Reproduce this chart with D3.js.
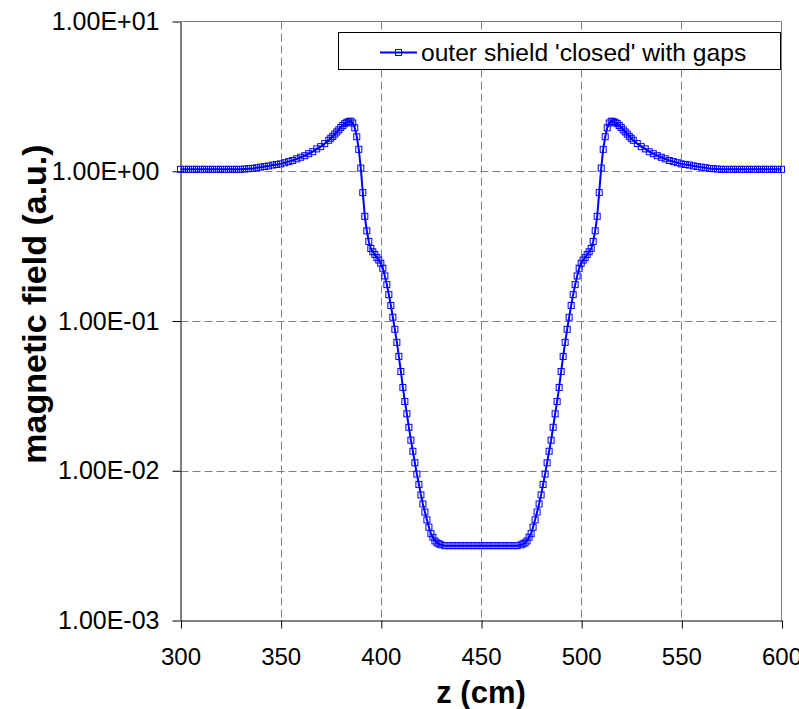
<!DOCTYPE html>
<html><head><meta charset="utf-8">
<script src="https://cdn.jsdelivr.net/npm/d3@7"></script>
<style>body{margin:0;background:#fff} svg{display:block}</style>
</head><body>
<svg id="c" width="799" height="709"></svg>
<script>
// ---- data ----
const zPos = [
  300,302,304,306,308,310,312,314,316,318,320,322,324,326,328,330,
  332,334,336,338,340,342,344,346,348,350,352,354,356,358,360,362,364,366,368,370,372,374,
  375,376,377,378,379,380,381,382,383,384,385,386,387,388,389,390,391,392,393,394,395,396,397,398,399,
  400,401,402,403,404,405,406,407,408,409,410,411,412,413,414,415,416,417,418,419,420,421,422,423,424,425,426,427,428,429,430,
  432,434,436,438,440,442,444,446,448,450,452,454,456,458,460,462,464,466,468,
  470,471,472,473,474,475,476,477,478,479,480,481,482,483,484,485,486,487,488,489,490,491,492,493,494,495,496,497,498,499,
  500,501,502,503,504,505,506,507,508,509,510,511,512,513,514,515,516,517,518,519,520,521,522,523,524,525,
  526,528,530,532,534,536,538,540,542,544,546,548,550,552,554,556,558,560,562,564,566,568,
  570,572,574,576,578,580,582,584,586,588,590,592,594,596,598,600
];
const field = [
  1.03,1.03,1.03,1.03,1.03,1.03,1.03,1.03,1.03,1.03,1.03,1.03,1.03,1.03,1.03,1.03,
  1.035,1.04,1.045,1.055,1.065,1.075,1.085,1.10,1.11,1.12,1.14,1.16,1.18,1.21,1.24,1.27,1.31,1.35,1.41,1.46,1.53,1.61,
  1.66,1.71,1.77,1.83,1.89,1.96,2.02,2.08,2.12,2.15,2.16,2.10,1.95,1.70,1.40,1.05,0.72,0.50,0.40,0.34,0.305,0.29,0.278,0.265,0.255,
  0.243,0.225,0.20,0.175,0.15,0.127,0.106,0.088,0.072,0.058,0.046,0.036,0.029,0.024,0.0195,0.016,0.0135,0.0113,0.0095,0.0081,0.0069,0.006,0.0053,0.0047,0.0042,0.0038,0.0036,0.0034,0.0033,0.00325,0.0032,
  0.00316,0.00316,0.00316,0.00316,0.00316,0.00316,0.00316,0.00316,0.00316,0.00316,0.00316,0.00316,0.00316,0.00316,0.00316,0.00316,0.00316,0.00316,0.00316,
  0.0032,0.00325,0.0033,0.0034,0.0036,0.0038,0.0042,0.0047,0.0053,0.006,0.0069,0.0081,0.0095,0.0113,0.0135,0.016,0.0195,0.024,0.029,0.036,0.046,0.058,0.072,0.088,0.106,0.127,0.15,0.175,0.20,0.225,
  0.243,0.255,0.265,0.278,0.29,0.305,0.34,0.40,0.50,0.72,1.05,1.40,1.70,1.95,2.10,2.16,2.15,2.12,2.08,2.02,1.96,1.89,1.83,1.77,1.71,1.66,
  1.61,1.53,1.46,1.41,1.35,1.31,1.27,1.24,1.21,1.18,1.16,1.14,1.12,1.11,1.10,1.085,1.075,1.065,1.055,1.045,1.04,1.035,
  1.03,1.03,1.03,1.03,1.03,1.03,1.03,1.03,1.03,1.03,1.03,1.03,1.03,1.03,1.03,1.03
];
const xTicks = [300,350,400,450,500,550,600];
const yTicks = [10,1,0.1,0.01,0.001];
const yTickLabels = ["1.00E+01","1.00E+00","1.00E-01","1.00E-02","1.00E-03"];
const seriesName = "outer shield 'closed' with gaps";
const xTitle = "z (cm)";
const yTitle = "magnetic field (a.u.)";

// ---- layout ----
const FONT = "'Liberation Sans', Arial, Helvetica, sans-serif";
const L = 180.5, R = 781.5, T = 21.5, B = 620.5;
const BLUE = "#0000ff";

const svg = d3.select("#c");
svg.append("rect").attr("width",799).attr("height",709).attr("fill","#fff");

const x = d3.scaleLinear().domain([300,600]).range([L,R]);
const y = d3.scaleLog().domain([0.001,10]).range([B,T]);

// gridlines
const grid = svg.append("g");
grid.selectAll("line.h").data(yTicks.filter(v => v > 0.001 && v < 10)).join("line")
  .attr("x1",L).attr("x2",R).attr("y1",d=>Math.round(y(d))+0.5).attr("y2",d=>Math.round(y(d))+0.5)
  .attr("stroke","#808080").attr("stroke-width",1).attr("stroke-dasharray","8,4");
grid.selectAll("line.v").data(xTicks.filter(v => v > 300 && v < 600)).join("line")
  .attr("y1",T).attr("y2",B).attr("x1",d=>Math.round(x(d))+0.5).attr("x2",d=>Math.round(x(d))+0.5)
  .attr("stroke","#808080").attr("stroke-width",1).attr("stroke-dasharray","8,4");

// plot border (top/right)
svg.append("path").attr("d",`M${L},${T}H${R}V${B}`).attr("fill","none").attr("stroke","#808080").attr("stroke-width",1);

// axes
const xAxis = d3.axisBottom(x).tickValues(xTicks).tickFormat(d3.format("d")).tickSize(8).tickSizeOuter(0).tickPadding(19);
const gx = svg.append("g").attr("transform",`translate(0,${B})`).call(xAxis);
const yAxis = d3.axisLeft(y).tickValues(yTicks).tickFormat((d,i)=>yTickLabels[i]).tickSize(8).tickSizeOuter(0).tickPadding(13);
const gy = svg.append("g").attr("transform",`translate(${L},0)`).call(yAxis);
[gx,gy].forEach(g=>{
  g.select(".domain").attr("stroke","#000");
  g.selectAll(".tick line").attr("stroke","#000");
  g.selectAll(".tick text").attr("fill","#000").style("font-family",FONT).style("font-size","24px");
});
gy.selectAll(".tick text").style("font-size","25px");
gx.selectAll(".tick line").attr("transform","translate(0.5,0)");

// series
const pts = zPos.map((z,i)=>[z, field[i]]);
const line = d3.line().x(d=>x(d[0])).y(d=>y(d[1]));
svg.append("path").datum(pts).attr("d",line).attr("fill","none").attr("stroke",BLUE).attr("stroke-width",2);
svg.append("g").selectAll("rect").data(pts).join("rect")
  .attr("x",d=>x(d[0])-3).attr("y",d=>y(d[1])-3).attr("width",6).attr("height",6)
  .attr("fill","none").attr("stroke",BLUE).attr("stroke-width",1);

// titles
svg.append("text").attr("x",481).attr("y",703).attr("text-anchor","middle")
  .style("font-family",FONT).style("font-size","31px").style("font-weight","bold").text(xTitle);
svg.append("text").attr("transform","translate(46,304) rotate(-90)").attr("text-anchor","middle")
  .style("font-family",FONT).style("font-size","34px").style("font-weight","bold").text(yTitle);

// legend
const lg = svg.append("g");
lg.append("rect").attr("x",338.5).attr("y",32.5).attr("width",442).attr("height",37).attr("fill","#fff").attr("stroke","#000").attr("stroke-width",1);
lg.append("line").attr("x1",380).attr("x2",417).attr("y1",52.5).attr("y2",52.5).attr("stroke",BLUE).attr("stroke-width",2);
lg.append("rect").attr("x",395.5).attr("y",49.5).attr("width",6).attr("height",6).attr("fill","none").attr("stroke",BLUE).attr("stroke-width",1);
lg.append("text").attr("x",421).attr("y",61).style("font-family",FONT).style("font-size","24.6px").attr("fill","#000").text(seriesName);
</script>
</body></html>
